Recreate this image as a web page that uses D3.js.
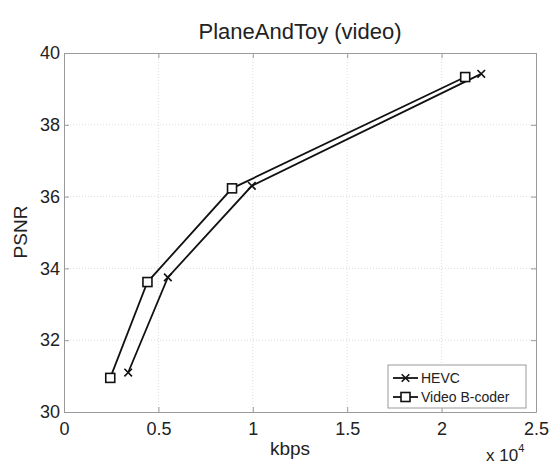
<!DOCTYPE html>
<html><head><meta charset="utf-8">
<script src="https://cdn.jsdelivr.net/npm/d3@7"></script>
<style>body{margin:0;background:#fff;}svg{display:block;font-family:"Liberation Sans",Arial,sans-serif;}</style>
</head><body>
<svg id="c" width="551" height="466"></svg>
<script>
const title = "PlaneAndToy (video)";
const xTicks = [0, 5000, 10000, 15000, 20000, 25000];
const xTickLabels = ["0", "0.5", "1", "1.5", "2", "2.5"];
const yTicks = [30, 32, 34, 36, 38, 40];
const hevcX = [3400, 5500, 9950, 22100];
const hevcY = [31.1, 33.75, 36.3, 39.42];
const bcoderX = [2450, 4420, 8900, 21250];
const bcoderY = [30.95, 33.62, 36.23, 39.33];
const seriesNames = ["HEVC", "Video B-coder"];

const svg = d3.select("#c");
const m = {l: 64, r: 536, t: 53, b: 412};
const x = d3.scaleLinear().domain([0, 25000]).range([m.l, m.r]);
const y = d3.scaleLinear().domain([30, 40]).range([m.b, m.t]);
const gridC = "#dcdcdc", boxC = "#9a9a9a", txtC = "#222";

// grid
const g = svg.append("g");
xTicks.slice(1, -1).forEach(t => g.append("line").attr("x1", x(t)).attr("x2", x(t)).attr("y1", m.t).attr("y2", m.b)
  .attr("stroke", gridC).attr("stroke-dasharray", "1,2"));
yTicks.slice(1, -1).forEach(t => g.append("line").attr("x1", m.l).attr("x2", m.r).attr("y1", y(t)).attr("y2", y(t))
  .attr("stroke", gridC).attr("stroke-dasharray", "1,2"));

// axes via d3
const xb = d3.axisBottom(x).tickValues(xTicks).tickFormat((d, i) => xTickLabels[i]).tickSizeInner(-5).tickSizeOuter(0).tickPadding(10);
const xt = d3.axisTop(x).tickValues(xTicks).tickFormat("").tickSizeInner(-5).tickSizeOuter(0);
const yl = d3.axisLeft(y).tickValues(yTicks).tickFormat(d3.format("d")).tickSizeInner(-5).tickSizeOuter(0).tickPadding(4);
const yr = d3.axisRight(y).tickValues(yTicks).tickFormat("").tickSizeInner(-5).tickSizeOuter(0);
function style(sel) {
  sel.selectAll("path").attr("stroke", boxC);
  sel.selectAll("line").attr("stroke", boxC);
  sel.selectAll("text").attr("fill", txtC).style("font-size", "18px").style("font-family", '"Liberation Sans",Arial,sans-serif');
}
svg.append("g").attr("transform", `translate(0,${m.b})`).call(xb).call(style);
svg.append("g").attr("transform", `translate(0,${m.t})`).call(xt).call(style);
svg.append("g").attr("transform", `translate(${m.l},0)`).call(yl).call(style);
svg.append("g").attr("transform", `translate(${m.r},0)`).call(yr).call(style);

// lines
const line = d3.line().x(d => x(d[0])).y(d => y(d[1]));
const hevc = hevcX.map((v, i) => [v, hevcY[i]]);
const bc = bcoderX.map((v, i) => [v, bcoderY[i]]);
svg.append("path").datum(hevc).attr("d", line).attr("fill", "none").attr("stroke", "#111").attr("stroke-width", 1.8);
svg.append("path").datum(bc).attr("d", line).attr("fill", "none").attr("stroke", "#111").attr("stroke-width", 1.8);

function cross(sel, cx, cy) {
  const s = 3.8;
  sel.append("path").attr("d", `M${cx - s},${cy - s}L${cx + s},${cy + s}M${cx - s},${cy + s}L${cx + s},${cy - s}`)
    .attr("stroke", "#111").attr("stroke-width", 1.6);
}
function square(sel, cx, cy) {
  const s = 4.5;
  sel.append("rect").attr("x", cx - s).attr("y", cy - s).attr("width", 2 * s).attr("height", 2 * s)
    .attr("fill", "#fff").attr("stroke", "#111").attr("stroke-width", 1.6);
}
hevc.forEach(d => cross(svg, x(d[0]), y(d[1])));
bc.forEach(d => square(svg, x(d[0]), y(d[1])));

// legend
const lg = svg.append("g");
lg.append("rect").attr("x", 388).attr("y", 365).attr("width", 138).attr("height", 43)
  .attr("fill", "#fff").attr("stroke", boxC).attr("stroke-width", 1);
[0, 1].forEach(i => {
  const ly = 378 + i * 19;
  lg.append("line").attr("x1", 393).attr("x2", 418).attr("y1", ly).attr("y2", ly).attr("stroke", "#111").attr("stroke-width", 1.8);
  if (i === 0) cross(lg, 405.5, ly); else square(lg, 405.5, ly);
  lg.append("text").attr("x", 421).attr("y", ly + 5).text(seriesNames[i]).attr("fill", txtC).style("font-size", "14px");
});

// labels
svg.append("text").attr("x", 300).attr("y", 39).attr("text-anchor", "middle").style("font-size", "22px").attr("fill", txtC).text(title);
svg.append("text").attr("x", 290).attr("y", 455).attr("text-anchor", "middle").style("font-size", "19px").attr("fill", txtC).text("kbps");
svg.append("text").attr("transform", "translate(27,232) rotate(-90)").attr("text-anchor", "middle").style("font-size", "19px").attr("fill", txtC).text("PSNR");
const e = svg.append("text").attr("x", 486).attr("y", 461).style("font-size", "17px").attr("fill", txtC);
e.append("tspan").text("x 10");
e.append("tspan").attr("dy", -9).style("font-size", "11px").text("4");
</script>
</body></html>
